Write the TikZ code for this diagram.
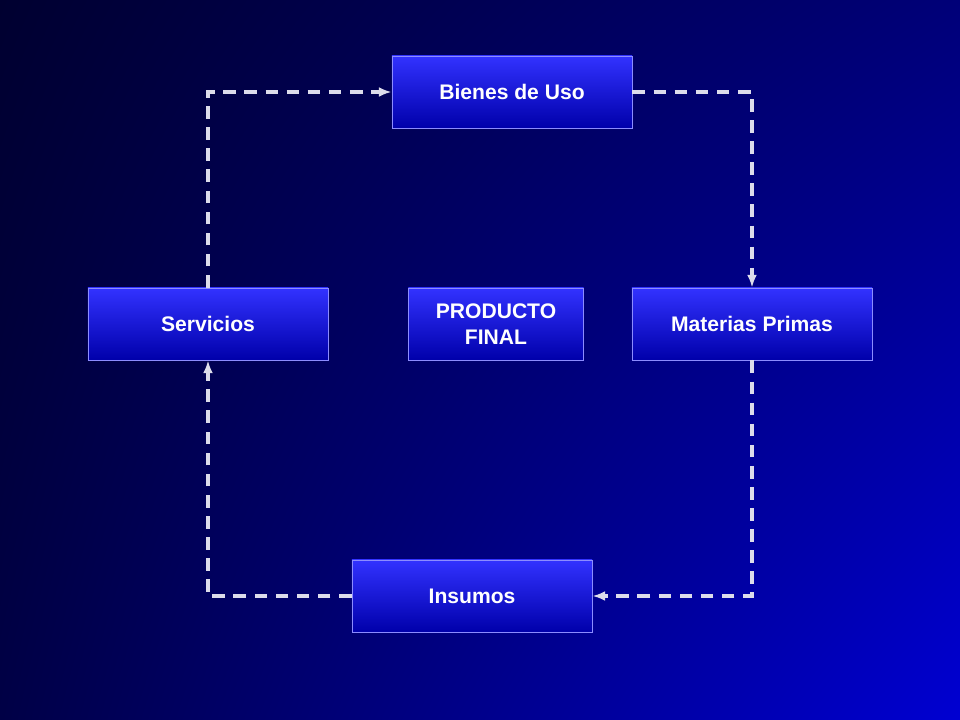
\documentclass[tikz,border=0pt]{standalone}
\usepackage{fontspec}
\setmainfont{Liberation Sans}
\usetikzlibrary{positioning,arrows.meta,shadings}
\definecolor{bgdark}{RGB}{0,0,48}
\definecolor{bgblue}{RGB}{0,0,210}
\definecolor{bgmid}{RGB}{0,0,120}
\definecolor{bglow}{RGB}{0,0,70}
\definecolor{boxtop}{RGB}{50,50,255}
\definecolor{boxbot}{RGB}{0,0,170}
\definecolor{boxline}{RGB}{140,140,255}
\definecolor{flowcolor}{RGB}{220,220,235}
\tikzset{
  itembox/.style={draw=boxline, line width=0.6pt, top color=boxtop, bottom color=boxbot,
    minimum height=1.8cm, text=white, font=\bfseries\fontsize{15}{19}\selectfont, align=center},
  flow/.style={draw=flowcolor, line width=2.2pt, dash pattern=on 9pt off 6pt, -{Latex[length=9pt,width=7pt]}}
}
\begin{document}
\begin{tikzpicture}[x=0.025cm,y=-0.025cm]
% background
\shade[upper left=bgdark, upper right=bgmid, lower left=bglow, lower right=bgblue]
  (0,0) rectangle (960,720);
\useasboundingbox (0,0) rectangle (960,720);
% boxes
\node[itembox, minimum width=6cm] (bienes) at (512,92) {Bienes de Uso};
\node[itembox, minimum width=6cm] (servicios) at (208,324) {Servicios};
\node[itembox, minimum width=4.375cm] (producto) at (496,324) {PRODUCTO\\FINAL};
\node[itembox, minimum width=6cm] (materias) at (752,324) {Materias Primas};
\node[itembox, minimum width=6cm] (insumos) at (472,596) {Insumos};
% cycle
\draw[flow] (servicios.north) |- (bienes.west);
\draw[flow] (bienes.east) -| (materias.north);
\draw[flow] (materias.south) |- (insumos.east);
\draw[flow] (insumos.west) -| (servicios.south);
\end{tikzpicture}
\end{document}
